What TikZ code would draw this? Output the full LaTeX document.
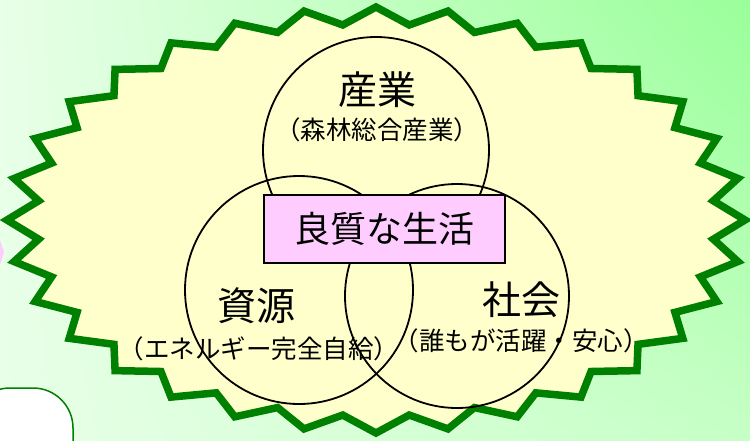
\documentclass[tikz,border=0pt]{standalone}
\usepackage{fontspec}
\usetikzlibrary{shadings}
\newfontfamily\jp{Noto Sans CJK JP}
\definecolor{bgA}{HTML}{E8FFE8}
\definecolor{bgB}{HTML}{99FF99}
\definecolor{bgC}{HTML}{C6FFC6}
\definecolor{starfill}{HTML}{FFFFCC}
\definecolor{stargreen}{HTML}{008000}
\definecolor{boxpink}{HTML}{FFCCFF}
\begin{document}
\begin{tikzpicture}[x=1pt,y=-1pt,
  ring/.style={circle, draw=black, line width=1.8pt, inner sep=0pt, minimum size=#1},
  titletext/.style={font=\jp\fontsize{39}{41}\selectfont, inner sep=0pt},
  subtext/.style={font=\jp\fontsize{25.5}{27}\selectfont, inner sep=0pt},
  centerbox/.style={draw=black, line width=2pt, fill=boxpink, minimum width=241pt,
    minimum height=68pt, inner sep=0pt, font=\jp\fontsize{36}{38}\selectfont}]
\useasboundingbox (0,0) rectangle (750,440);
\clip (0,0) rectangle (750,440);
% background
\shade[upper left=bgA, lower left=bgA, upper right=bgB, lower right=bgC] (0,0) rectangle (750,440);
% pink shape at left edge
\fill[boxpink] (-2,236) -- (1,243) -- (4,252) -- (1,262) -- (-2,268) -- cycle;
% white rounded box at bottom left
\draw[stargreen, line width=1.5pt, fill=white, rounded corners=40pt] (-30,388) rectangle (73,500);
% star
\begin{scope}[shift={(376,220)}]
\filldraw[fill=starfill, draw=stargreen, line width=7.5pt, miter limit=20]
  (0:369 and 213)
  \foreach \i in {0,...,31} { -- ({\i*11.25+5.625}:339 and 196) -- ({(\i+1)*11.25}:369 and 213) } -- cycle;
\end{scope}
% circles
\node[ring=226pt] (cTop) at (376,150) {};
\node[ring=228pt] (cLeft) at (299,290) {};
\node[ring=224pt] (cRight) at (457,296) {};
% labels
\node[titletext] (tTop) at (377,90) {産業};
\node[subtext] (sTop) at (377,130) {（森林総合産業）};
\node[titletext] (tLeft) at (256,306) {資源};
\node[subtext] (sLeft) at (259,349) {（エネルギー完全自給）};
\node[titletext] (tRight) at (521,300) {社会};
\node[subtext] (sRight) at (521,341) {（誰もが活躍・安心）};
% center box
\node[centerbox] (life) at (384.5,229) {良質な生活};
\end{tikzpicture}
\end{document}
